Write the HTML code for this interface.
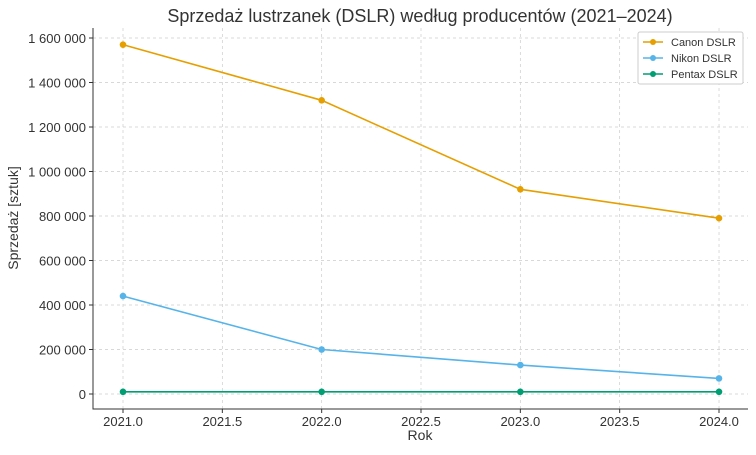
<!DOCTYPE html>
<html><head><meta charset="utf-8"><style>
body{margin:0;background:#fff;font-family:"Liberation Sans","DejaVu Sans",sans-serif;}
svg text{font-family:"Liberation Sans","DejaVu Sans",sans-serif;fill:#333;}
</style></head><body>
<svg id="chart" width="756" height="450">
<text x="420" y="22" text-anchor="middle" font-size="18">Sprzedaż lustrzanek (DSLR) według producentów (2021–2024)</text>
<g id="grid"></g><g id="axes"></g><g id="series"></g>
<text x="420" y="440" text-anchor="middle" font-size="14">Rok</text>
<text transform="translate(18,218) rotate(-90)" text-anchor="middle" font-size="14">Sprzedaż [sztuk]</text>
<g id="legend"></g>
</svg>
<script>
const years=[2021,2022,2023,2024];
const canon=[1570000,1320000,920000,790000];
const nikon=[440000,200000,130000,70000];
const pentax=[10000,10000,10000,10000];
const xTicks=[2021.0,2021.5,2022.0,2022.5,2023.0,2023.5,2024.0];
const yTicks=[0,200000,400000,600000,800000,1000000,1200000,1400000,1600000];
const seriesNames=["Canon DSLR","Nikon DSLR","Pentax DSLR"];
const NS="http://www.w3.org/2000/svg";
const L=93,R=748,T=28,B=409;
const x=v=>123+(v-2021)*198.67;
const y=v=>394-v*0.0002225;
function mk(tag,attrs,parent){const e=document.createElementNS(NS,tag);for(const k in attrs)e.setAttribute(k,attrs[k]);parent.appendChild(e);return e;}
const grid=document.getElementById('grid'),axes=document.getElementById('axes'),ser=document.getElementById('series'),leg=document.getElementById('legend');
const fmt=v=>String(v).replace(/\B(?=(\d{3})+(?!\d))/g,' ');
xTicks.forEach(t=>{
 const g=mk('line',{x1:x(t),x2:x(t),y1:T,y2:B,stroke:'#ccc','stroke-dasharray':'3,3','stroke-width':0.7},grid);
 
 
 mk('line',{x1:x(t),x2:x(t),y1:B,y2:B+4,stroke:'#333'},axes);
 const tx=mk('text',{x:x(t),y:B+17,'text-anchor':'middle','font-size':13},axes);tx.textContent=t.toFixed(1);
 
 
});
yTicks.forEach(t=>{
 const g=mk('line',{x1:L,x2:R,y1:y(t),y2:y(t),stroke:'#ccc','stroke-dasharray':'3,3','stroke-width':0.7},grid);
 
 
 mk('line',{x1:L-4,x2:L,y1:y(t),y2:y(t),stroke:'#333'},axes);
 const tx=mk('text',{x:L-7,y:y(t)+5,'text-anchor':'end','font-size':13},axes);tx.textContent=fmt(t);
 
 
});
mk('path',{d:`M${L},${T}V${B}H${R}`,fill:'none',stroke:'#333'},axes);
const data=[canon,nikon,pentax],colors=['#e69f00','#56b4e9','#009e73'];
data.forEach((d,i)=>{
 const p=mk('polyline',{points:d.map((v,j)=>x(years[j])+','+y(v)).join(' '),fill:'none',stroke:colors[i],'stroke-width':1.6},ser);
 
 
 d.forEach((v,j)=>{const c=mk('circle',{cx:x(years[j]),cy:y(v),r:3.3,fill:colors[i]},ser);
  
  });
});
mk('rect',{x:638,y:32,width:105,height:52,fill:'#fff',stroke:'#ccc',rx:2},leg);
seriesNames.forEach((n,i)=>{
 const yy=42+i*16;
 mk('line',{x1:643,x2:663,y1:yy,y2:yy,stroke:colors[i],'stroke-width':1.6},leg);
 mk('circle',{cx:653,cy:yy,r:3,fill:colors[i]},leg);
 const t=mk('text',{x:671,y:yy+4,'font-size':11},leg);t.textContent=n;
 
 
});
</script>
</body></html>
